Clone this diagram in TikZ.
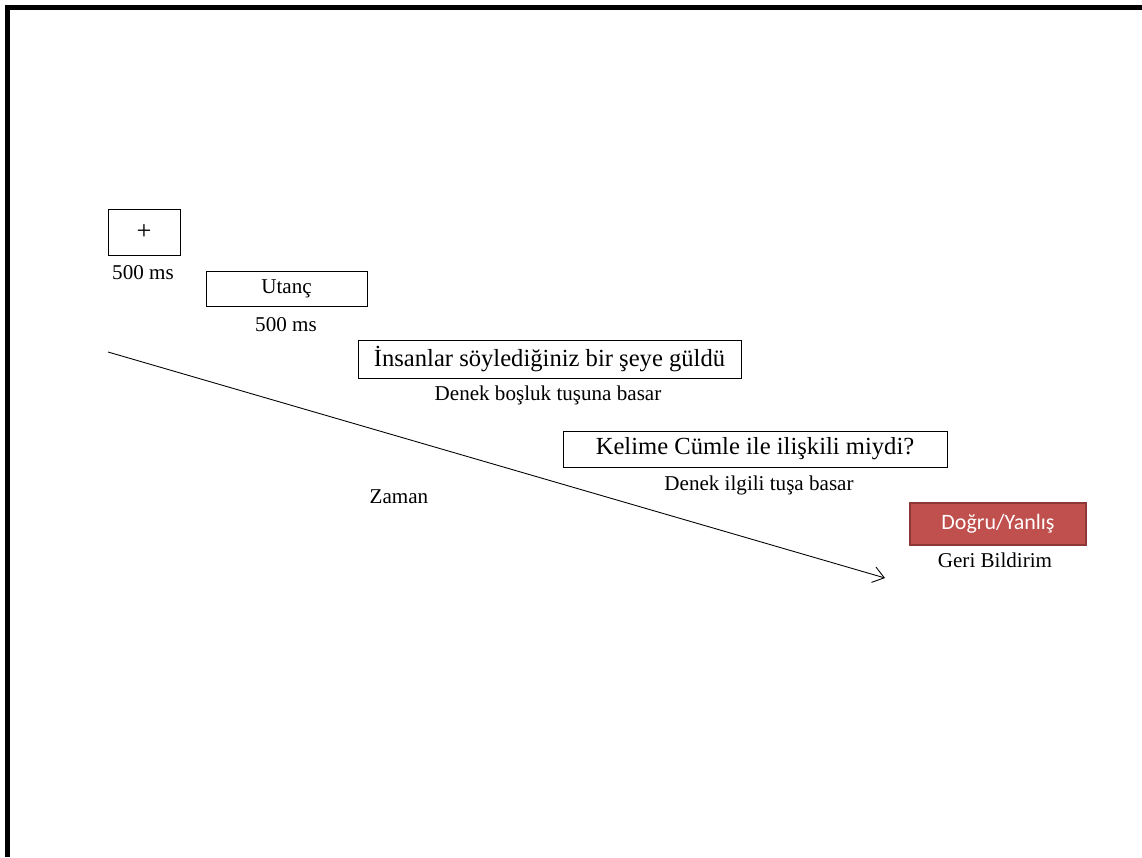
\documentclass[tikz,border=0pt]{standalone}
\usepackage{fontspec}
\setmainfont{Liberation Serif}
\newfontfamily\fbfont{Carlito}
\usetikzlibrary{arrows.meta}
\definecolor{fbred}{HTML}{C0504D}
\definecolor{fbedge}{HTML}{8C3836}
\begin{document}
\begin{tikzpicture}[
    box/.style={draw,line width=0.45pt,inner sep=0pt},
    lbl/.style={font=\fontsize{12}{14}\selectfont}]
    \useasboundingbox (0,0) rectangle (22.84,17.14);
    %% frame
    \draw[line width=2.3pt] (0.15,0) -- (0.15,16.99) -- (22.84,16.99);
    %% screens
    \node[box,minimum width=1.44cm,minimum height=0.92cm,font=\fontsize{15}{17}\selectfont] (fix) at (2.88,12.5) {+};
    \node[lbl] (fixt) at (2.86,11.68) {500 ms};
    \node[box,minimum width=3.22cm,minimum height=0.7cm,lbl] (word) at (5.73,11.37) {Utanç};
    \node[lbl] (wordt) at (5.72,10.64) {500 ms};
    \node[box,minimum width=7.66cm,minimum height=0.76cm,font=\fontsize{14}{16}\selectfont] (sent) at (10.99,9.96) {İnsanlar söylediğiniz bir şeye güldü};
    \node[lbl] (sentt) at (10.96,9.24) {Denek boşluk tuşuna basar};
    \node[box,minimum width=7.68cm,minimum height=0.72cm,font=\fontsize{14}{16}\selectfont] (quest) at (15.1,8.16) {Kelime Cümle ile ilişkili miydi?};
    \node[lbl] (questt) at (15.18,7.44) {Denek ilgili tuşa basar};
    \node[draw=fbedge,fill=fbred,line width=1pt,minimum width=3.52cm,minimum height=0.84cm,text=white,font=\fbfont\fontsize{12.5}{15}\selectfont] (fb) at (19.96,6.66) {Doğru/Yanlış};
    \node[lbl] (fbt) at (19.9,5.94) {Geri Bildirim};
    %% time
    \coordinate (t0) at (2.16,10.1);
    \coordinate (t1) at (17.7,5.58);
    \draw[line width=0.5pt,-{Straight Barb[length=2.2mm,width=3.2mm]}] (t0) -- (t1);
    \node[lbl] (zaman) at (7.98,7.2) {Zaman};
\end{tikzpicture}
\end{document}
